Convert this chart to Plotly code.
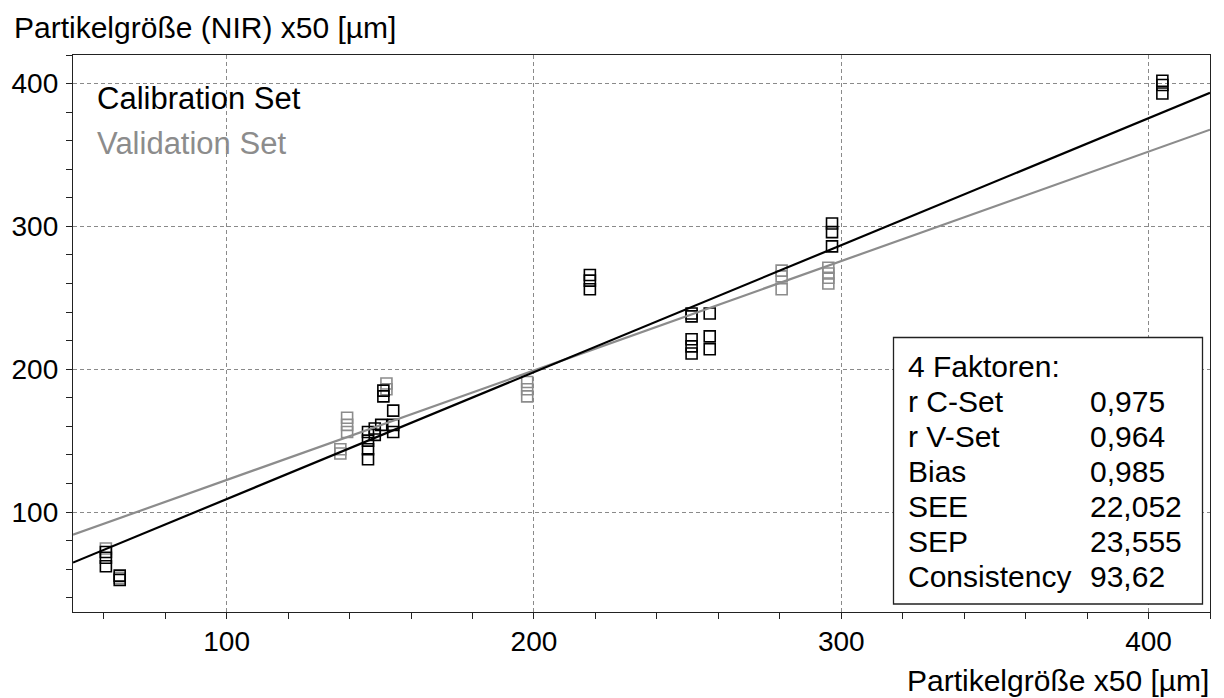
import plotly.graph_objects as go

# ---- data ----
calib_x = [60.7, 60.7, 60.7, 65.2, 65.2,
           146, 146, 146, 146, 148.2, 148.2, 150.3, 151, 151,
           154.2, 154.2, 154.2,
           218.2, 218.2, 218.2,
           251.3, 251.3, 251.3, 251.3, 251.3,
           257.2, 257.2, 257.2,
           297, 297, 297,
           404.5, 404.5, 404.5]
calib_y = [72, 68, 62, 55.5, 52.5,
           156, 150, 144, 137, 158.5, 154, 161, 185, 181,
           171, 161, 156,
           266, 262, 256,
           239, 237, 221, 216, 211,
           239, 223, 214,
           302, 296, 286,
           402, 399, 393]

valid_x = [60.7, 65.2,
           137, 137, 139.2, 139.2, 139.2,
           152, 152,
           197.8, 197.8, 197.8,
           280.6, 280.6, 280.6,
           295.8, 295.8, 295.8, 295.8]
valid_y = [74.5, 54,
           144, 141, 166, 161, 156,
           190, 186,
           191, 186, 181,
           269, 265, 256,
           271, 267, 264, 260]

calib_line_x = [50, 420]
calib_line_y = [64.6, 393.5]
valid_line_x = [50, 420]
valid_line_y = [84.1, 367.7]

x_ticks = [100, 200, 300, 400]
y_ticks = [100, 200, 300, 400]

legend_labels = ["Calibration Set", "Validation Set"]
stat_labels = ["4 Faktoren:", "r C-Set", "r V-Set", "Bias", "SEE", "SEP", "Consistency"]
stat_values = ["", "0,975", "0,964", "0,985", "22,052", "23,555", "93,62"]

x_title = "Partikelgröße x50 [µm]"
y_title = "Partikelgröße (NIR) x50 [µm]"

# ---- styling ----
BLACK = "#000000"
GRAY = "#8c8c8c"
FONT = "Liberation Sans, Arial, sans-serif"
FS_TICK = 28
FS_TEXT = 30

W, H = 1224, 698
ML, MR, MT, MB = 73, 14, 55, 86
PW = W - ML - MR
PH = H - MT - MB


def px_x(px):
    return (px - ML) / PW


def px_y(py):
    return (H - MB - py) / PH


fig = go.Figure()

fig.add_trace(go.Scatter(
    x=valid_x, y=valid_y, mode="markers",
    marker=dict(symbol="square-open", size=11, color=GRAY, line=dict(width=1.6, color=GRAY)),
    showlegend=False, hoverinfo="x+y"))
fig.add_trace(go.Scatter(
    x=calib_x, y=calib_y, mode="markers",
    marker=dict(symbol="square-open", size=11, color=BLACK, line=dict(width=1.6, color=BLACK)),
    showlegend=False, hoverinfo="x+y"))
fig.add_trace(go.Scatter(
    x=valid_line_x, y=valid_line_y, mode="lines",
    line=dict(color=GRAY, width=2.2), showlegend=False, hoverinfo="skip"))
fig.add_trace(go.Scatter(
    x=calib_line_x, y=calib_line_y, mode="lines",
    line=dict(color=BLACK, width=2.2), showlegend=False, hoverinfo="skip"))

axis_common = dict(
    showline=True, linecolor="#222222", linewidth=1.3, mirror=True,
    ticks="outside", ticklen=6, tickwidth=1.2, tickcolor="#222222",
    showgrid=True, gridcolor="#8a8a8a", gridwidth=1, griddash="4px,3px",
    zeroline=False, automargin=False,
    tickfont=dict(family=FONT, size=FS_TICK, color=BLACK),
    minor=dict(ticks="outside", ticklen=6, tickwidth=1.2, tickcolor="#222222",
               dtick=20, showgrid=False),
)

fig.update_xaxes(range=[50, 420], tickmode="array", tickvals=x_ticks,
                 ticktext=[str(v) for v in x_ticks], ticklabelstandoff=-2, **axis_common)
fig.update_yaxes(range=[30, 420], tickmode="array", tickvals=y_ticks,
                 ticktext=[str(v) for v in y_ticks], ticklabelstandoff=2, **axis_common)

annotations = []
# axis titles
annotations.append(dict(text=y_title, xref="paper", yref="paper",
                        x=px_x(12), y=px_y(28), xanchor="left", yanchor="middle",
                        showarrow=False, font=dict(family=FONT, size=FS_TEXT, color=BLACK)))
annotations.append(dict(text=x_title, xref="paper", yref="paper",
                        x=px_x(1211), y=px_y(680), xanchor="right", yanchor="middle",
                        showarrow=False, font=dict(family=FONT, size=FS_TEXT, color=BLACK)))
# legend-like labels
for i, (lab, col) in enumerate(zip(legend_labels, [BLACK, GRAY])):
    annotations.append(dict(text=lab, xref="paper", yref="paper",
                            x=px_x(95), y=px_y(98 + i * 45), xanchor="left", yanchor="middle",
                            showarrow=False, font=dict(family=FONT, size=FS_TEXT + 1, color=col)))
# stats box
for i, (lab, val) in enumerate(zip(stat_labels, stat_values)):
    yy = px_y(366.7 + i * 35)
    annotations.append(dict(text=lab, xref="paper", yref="paper",
                            x=px_x(906), y=yy, xanchor="left", yanchor="middle",
                            showarrow=False, font=dict(family=FONT, size=FS_TEXT, color=BLACK)))
    if val:
        annotations.append(dict(text=val, xref="paper", yref="paper",
                                x=px_x(1088), y=yy, xanchor="left", yanchor="middle",
                                showarrow=False, font=dict(family=FONT, size=FS_TEXT, color=BLACK)))

shapes = [dict(type="rect", xref="paper", yref="paper",
               x0=px_x(893.5), x1=px_x(1202.5), y0=px_y(604), y1=px_y(337.5),
               line=dict(color="#222222", width=1.3), fillcolor="white", layer="above")]

fig.update_layout(
    width=W, height=H,
    margin=dict(l=ML, r=MR, t=MT, b=MB, pad=0),
    paper_bgcolor="white", plot_bgcolor="white",
    font=dict(family=FONT, size=FS_TEXT, color=BLACK),
    annotations=annotations, shapes=shapes,
    showlegend=False,
)

fig.write_html(
    "out.html",
    config={"displayModeBar": False},
    post_script="document.body.style.margin='0px';document.body.style.overflow='hidden';",
)
